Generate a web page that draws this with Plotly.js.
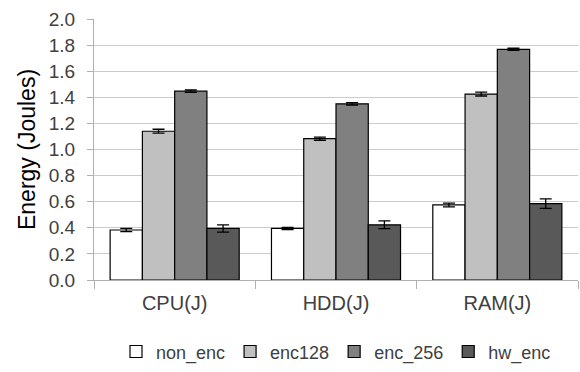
<!DOCTYPE html>
<html>
<head>
<meta charset="utf-8">
<script src="https://cdn.plot.ly/plotly-3.0.1.min.js"></script>
<style>html,body{margin:0;padding:0;background:#fff;}#chart{width:580px;height:372px;}</style>
</head>
<body>
<div id="chart"></div>
<script>
var categories = ["CPU(J)", "HDD(J)", "RAM(J)"];
var seriesNames = ["non_enc", "enc128", "enc_256", "hw_enc"];
var nonEnc = [0.383, 0.395, 0.575];
var enc128 = [1.14, 1.083, 1.425];
var enc256 = [1.447, 1.35, 1.768];
var hwEnc = [0.395, 0.423, 0.585];
var nonEncErr = [0.012, 0.008, 0.014];
var enc128Err = [0.015, 0.012, 0.015];
var enc256Err = [0.009, 0.009, 0.008];
var hwEncErr = [0.028, 0.03, 0.036];
var colors = ["#ffffff", "#c0c0c0", "#808080", "#595959"];

var values = [nonEnc, enc128, enc256, hwEnc];
var errs = [nonEncErr, enc128Err, enc256Err, hwEncErr];
var font = "'Liberation Sans', Arial, sans-serif";

var traces = seriesNames.map(function (name, i) {
  return {
    type: "bar",
    name: name,
    x: categories,
    y: values[i],
    marker: { color: colors[i], line: { color: "#000000", width: 1.2 } },
    error_y: { type: "data", array: errs[i], visible: true, color: "#000000", thickness: 1.3, width: 6 }
  };
});

var layout = {
  width: 580, height: 372,
  margin: { l: 94, r: 2, t: 19, b: 84 },
  paper_bgcolor: "#ffffff", plot_bgcolor: "#ffffff",
  font: { family: font, color: "#404040" },
  barmode: "group", bargap: 0.2, bargroupgap: 0,
  showlegend: true,
  legend: {
    orientation: "h", x: 0.5, xanchor: "center", y: -0.275, yanchor: "middle",
    font: { family: font, size: 18, color: "#404040" },
    traceorder: "normal"
  },
  xaxis: {
    type: "category",
    showgrid: false, showline: true, linecolor: "#b0b0b0", linewidth: 1,
    ticks: "outside", tickson: "boundaries", ticklen: 8, tickcolor: "#b0b0b0",
    tickfont: { family: font, size: 20, color: "#404040" },
    ticklabelstandoff: 5,
    fixedrange: true
  },
  yaxis: {
    range: [0, 2], dtick: 0.2, tickformat: ".1f",
    showgrid: true, gridcolor: "#cccccc", gridwidth: 1,
    zeroline: false,
    showline: true, linecolor: "#b0b0b0", linewidth: 1,
    ticks: "outside", ticklen: 6, tickcolor: "#b0b0b0",
    tickfont: { family: font, size: 19, color: "#404040" },
    ticklabelstandoff: 8,
    title: { text: "Energy (Joules)", font: { family: font, size: 23, color: "#000000" }, standoff: 6 },
    automargin: false
  }
};

Plotly.newPlot("chart", traces, layout, { displayModeBar: false, staticPlot: true });
</script>
</body>
</html>
